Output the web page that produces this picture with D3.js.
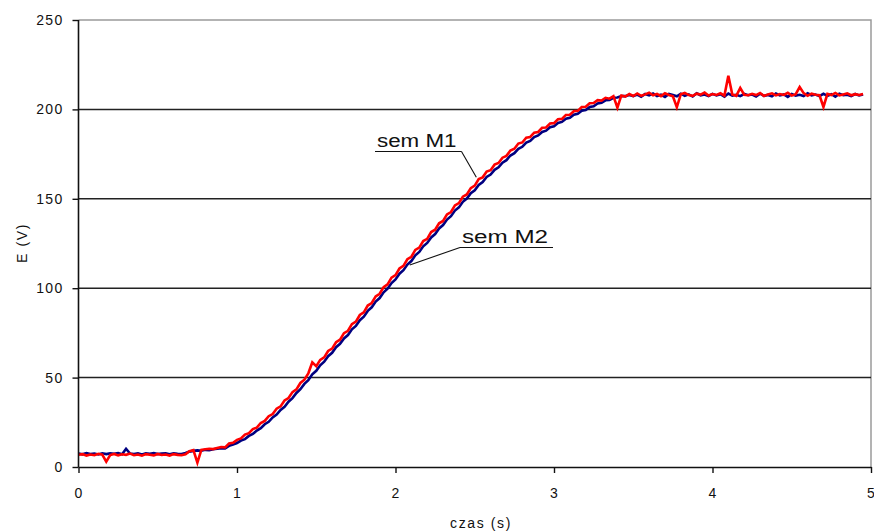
<!DOCTYPE html>
<html>
<head>
<meta charset="utf-8">
<script src="https://cdn.jsdelivr.net/npm/d3@7"></script>
<style>
  html, body { margin: 0; padding: 0; background: #fff; }
  svg { display: block; font-family: "Liberation Sans", Arial, sans-serif; }
</style>
</head>
<body>
<svg id="chart" width="874" height="531"></svg>
<script>
// sampling of both records (s)
const tStep = 0.025;

// sem M1 (red), E in V, one value every 25 ms from t = 0
const semM1 = [
  6.8, 7.2, 6.4, 7.0, 6.6, 7.4, 6.9, 3.0, 6.7, 7.3,
  6.5, 7.1, 6.8, 7.5, 6.6, 7.0, 6.3, 7.2, 6.9, 6.5,
  7.3, 6.7, 7.0, 6.4, 7.2, 6.8, 6.6, 7.1, 8.8, 9.4,
  2.4, 9.6, 9.9, 10.2, 10.0, 10.6, 11.2, 11.0, 13.2, 13.6,
  15.2, 16.0, 18.1, 18.9, 21.2, 22.0, 24.6, 25.8, 28.4, 29.6,
  32.6, 33.9, 37.2, 38.6, 41.9, 43.4, 47.0, 48.8, 52.4, 58.5,
  56.4, 59.9, 61.3, 64.9, 66.2, 69.8, 71.2, 74.9, 76.2, 79.9,
  81.3, 85.0, 86.5, 90.3, 91.7, 95.4, 96.9, 100.6, 102.1, 105.9,
  107.3, 111.0, 112.5, 116.2, 117.6, 121.4, 122.7, 126.4, 127.6, 131.4,
  132.7, 136.3, 137.6, 141.3, 142.6, 146.3, 147.6, 151.2, 152.4, 156.0,
  157.4, 161.0, 162.0, 165.2, 166.0, 169.1, 170.0, 173.0, 174.0, 177.0,
  178.0, 180.9, 181.5, 184.2, 184.6, 187.0, 187.4, 189.7, 189.9, 192.1,
  192.3, 194.5, 194.7, 196.9, 197.0, 199.0, 199.2, 201.3, 201.5, 203.4,
  203.6, 205.2, 204.9, 206.5, 206.0, 207.4, 201.0, 207.8, 207.2, 208.6,
  207.5, 208.9, 207.6, 208.4, 209.3, 207.9, 208.7, 207.4, 209.0, 208.1,
  207.3, 201.2, 208.5, 209.2, 208.0, 207.6, 208.8, 208.3, 209.4, 207.8,
  208.6, 208.1, 209.0, 207.7, 218.8, 208.3, 207.6, 212.0, 208.2, 207.9,
  208.7, 208.0, 209.2, 207.5, 208.4, 209.0, 207.8, 208.6, 208.1, 209.3,
  207.7, 208.5, 212.5, 209.1, 207.6, 208.8, 208.2, 207.9, 201.4, 208.7,
  208.0, 209.2, 207.8, 208.4, 209.0, 207.9, 208.5, 208.1, 208.6
];

// sem M2 (navy), same sampling
const semM2 = [
  7.6, 7.1, 7.8, 7.3, 7.5, 7.0, 7.7, 7.2, 7.6, 7.4,
  7.8, 7.1, 10.2, 7.5, 7.3, 7.7, 7.0, 7.6, 7.4, 7.8,
  7.2, 7.5, 7.7, 7.1, 7.6, 7.4, 7.3, 7.8, 8.6, 9.0,
  9.3, 9.1, 9.6, 9.4, 9.9, 10.2, 10.5, 10.4, 11.8, 12.6,
  13.4, 14.8, 15.6, 17.4, 18.5, 20.4, 21.7, 23.9, 25.3, 27.7,
  29.3, 31.9, 33.7, 36.5, 38.5, 41.4, 43.5, 46.5, 48.6, 51.8,
  53.8, 56.9, 58.9, 62.0, 63.9, 67.0, 68.9, 71.9, 73.8, 77.0,
  78.9, 82.1, 84.1, 87.3, 89.3, 92.5, 94.5, 97.7, 99.7, 102.9,
  104.9, 108.1, 110.1, 113.2, 115.2, 118.4, 120.3, 123.4, 125.3, 128.4,
  130.3, 133.4, 135.3, 138.4, 140.3, 143.4, 145.2, 148.3, 150.1, 153.1,
  154.8, 157.7, 159.4, 162.2, 163.6, 166.2, 167.6, 170.2, 171.6, 174.2,
  175.5, 177.9, 179.1, 181.4, 182.4, 184.5, 185.4, 187.4, 188.1, 190.0,
  190.6, 192.4, 193.0, 194.8, 195.3, 197.0, 197.5, 199.2, 199.7, 201.3,
  201.7, 203.3, 203.7, 205.1, 205.3, 206.5, 206.7, 207.5, 207.4, 208.1,
  207.4, 208.3, 207.1, 208.6, 207.8, 208.9, 207.5, 208.2, 207.0, 208.7,
  208.0, 207.3, 208.8, 207.6, 208.4, 207.2, 209.0, 207.9, 208.3, 207.4,
  208.7, 207.8, 208.5, 207.1, 208.9, 207.7, 208.2, 207.4, 208.6, 207.9,
  208.3, 207.2, 208.8, 207.6, 208.1, 207.3, 208.9, 207.8, 208.4, 207.0,
  208.6, 207.7, 208.2, 207.5, 209.0, 207.9, 208.3, 207.4, 208.7, 207.6,
  208.5, 207.1, 208.8, 207.9, 208.2, 207.4, 208.6, 207.8, 208.3
];

const xTicks = [0, 1, 2, 3, 4, 5];
const yTicks = [0, 50, 100, 150, 200, 250];
const yGrid = [50, 100, 150, 200];

const xTitle = 'czas (s)';
const yTitle = 'E (V)';

// callout labels: text, point on the curve (t, E)
const labelM1 = { text: 'sem M1', t: 2.51, e: 162 };
const labelM2 = { text: 'sem M2', t: 2.09, e: 113 };

const svg = d3.select('#chart');
const pLeft = 78.5, pRight = 871, pTop = 20, pBottom = 467;

const x = d3.scaleLinear().domain([0, 5]).range([pLeft, pRight]);
const y = d3.scaleLinear().domain([0, 250]).range([pBottom, pTop]);

//frame on top and right side
svg.append('path')
  .attr('d', `M${pLeft},${pTop}H${pRight}V${pBottom}`)
  .attr('fill', 'none')
  .attr('stroke', '#9a9a9a')
  .attr('stroke-width', 1.5);

//gridlines
svg.append('g')
  .selectAll('line')
  .data(yGrid)
  .enter()
  .append('line')
  .attr('x1', pLeft)
  .attr('x2', pRight)
  .attr('y1', d => y(d))
  .attr('y2', d => y(d))
  .attr('stroke', '#222')
  .attr('stroke-width', 1.5);

//series
const line = d3.line()
  .x((d, i) => x(i * tStep))
  .y(d => y(d));

svg.append('path')
  .datum(semM2)
  .attr('fill', 'none')
  .attr('stroke', '#000080')
  .attr('stroke-width', 2.6)
  .attr('stroke-linejoin', 'miter')
  .attr('d', line);

svg.append('path')
  .datum(semM1)
  .attr('fill', 'none')
  .attr('stroke', '#ff0000')
  .attr('stroke-width', 2.6)
  .attr('stroke-linejoin', 'miter')
  .attr('d', line);

//axes
const xAxis = d3.axisBottom(x).tickValues(xTicks).tickSizeInner(6).tickSizeOuter(0).tickPadding(15).tickFormat(d3.format('d'));
const yAxis = d3.axisLeft(y).tickValues(yTicks).tickSizeInner(6).tickSizeOuter(0).tickPadding(9).tickFormat(d3.format('d'));

const xAxisGroup = svg.append('g').attr('transform', `translate(0,${pBottom})`).call(xAxis);
const yAxisGroup = svg.append('g').attr('transform', `translate(${pLeft},0)`).call(yAxis);

[xAxisGroup, yAxisGroup].forEach(g => {
  g.select('.domain').attr('stroke', '#111').attr('stroke-width', 1.6);
  g.selectAll('.tick line').attr('stroke', '#111').attr('stroke-width', 1.4);
  g.selectAll('text')
    .attr('fill', '#111')
    .style('font-size', '14px')
    .style('letter-spacing', '1.3px')
    .style('font-family', '"Liberation Sans", Arial, sans-serif');
});
yAxisGroup.select('.domain').attr('d', `M0,${pTop}V${pBottom}`);

//axis titles
svg.append('text')
  .attr('x', 481)
  .attr('y', 528)
  .attr('text-anchor', 'middle')
  .style('font-size', '14px')
  .style('letter-spacing', '1.6px')
  .attr('fill', '#111')
  .text(xTitle);

svg.append('text')
  .attr('transform', `translate(27,243) rotate(-90)`)
  .attr('text-anchor', 'middle')
  .style('font-size', '14px')
  .style('letter-spacing', '1.6px')
  .attr('fill', '#111')
  .text(yTitle);

//callouts
const callout = (lab, x0, x1, yLine) => {
  const px = x(lab.t), py = y(lab.e);
  const end = Math.abs(px - x0) < Math.abs(px - x1) ? x0 : x1;
  svg.append('path')
    .attr('d', `M${x0},${yLine}H${x1}M${end},${yLine}L${px},${py}`)
    .attr('fill', 'none')
    .attr('stroke', '#111')
    .attr('stroke-width', 1.1);
  svg.append('text')
    .attr('x', x0 + 2)
    .attr('y', yLine - 4.5)
    .attr('textLength', x1 - x0 - 7)
    .attr('lengthAdjust', 'spacingAndGlyphs')
    .style('font-size', '18px')
    .attr('fill', '#111')
    .text(lab.text);
};

callout(labelM1, 375, 461.5, 151.5);
callout(labelM2, 460, 553, 247.5);
</script>
</body>
</html>
